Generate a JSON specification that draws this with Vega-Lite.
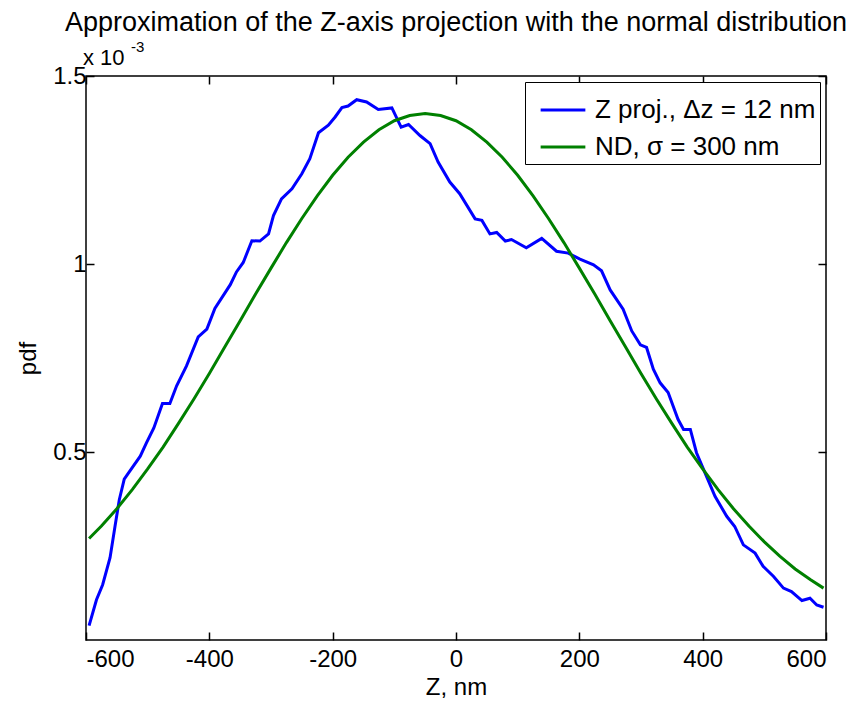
{
  "$schema": "https://vega.github.io/schema/vega-lite/v6.json",
  "autosize": {"type": "none"},
  "padding": {"left": 86, "top": 76, "right": 29, "bottom": 65},
  "width": 740,
  "height": 564,
  "background": "white",
  "config": {
    "font": "Liberation Sans",
    "view": {"stroke": "black", "strokeWidth": 1.5},
    "axis": {"grid": false, "domain": false, "tickColor": "black", "tickSize": -8, "tickWidth": 1.5, "labelColor": "black", "titleColor": "black", "labelFont": "Liberation Sans", "titleFont": "Liberation Sans", "labelFontSize": 24, "titleFontSize": 24, "titleFontWeight": "normal"}
  },
  "title": {"text": "Approximation of the Z-axis projection with the normal distribution", "fontSize": 27, "fontWeight": "normal", "font": "Liberation Sans", "color": "black", "anchor": "middle", "offset": 3},
  "datasets": {
    "curves": [
      {"z": -595, "pdf": 0.038, "series": "Z proj., Δz = 12 nm"},
      {"z": -583, "pdf": 0.107, "series": "Z proj., Δz = 12 nm"},
      {"z": -573, "pdf": 0.147, "series": "Z proj., Δz = 12 nm"},
      {"z": -561, "pdf": 0.219, "series": "Z proj., Δz = 12 nm"},
      {"z": -553, "pdf": 0.302, "series": "Z proj., Δz = 12 nm"},
      {"z": -546, "pdf": 0.373, "series": "Z proj., Δz = 12 nm"},
      {"z": -538, "pdf": 0.428, "series": "Z proj., Δz = 12 nm"},
      {"z": -529, "pdf": 0.449, "series": "Z proj., Δz = 12 nm"},
      {"z": -512, "pdf": 0.489, "series": "Z proj., Δz = 12 nm"},
      {"z": -502, "pdf": 0.524, "series": "Z proj., Δz = 12 nm"},
      {"z": -490, "pdf": 0.564, "series": "Z proj., Δz = 12 nm"},
      {"z": -476, "pdf": 0.629, "series": "Z proj., Δz = 12 nm"},
      {"z": -464, "pdf": 0.629, "series": "Z proj., Δz = 12 nm"},
      {"z": -453, "pdf": 0.676, "series": "Z proj., Δz = 12 nm"},
      {"z": -437, "pdf": 0.729, "series": "Z proj., Δz = 12 nm"},
      {"z": -418, "pdf": 0.806, "series": "Z proj., Δz = 12 nm"},
      {"z": -404, "pdf": 0.827, "series": "Z proj., Δz = 12 nm"},
      {"z": -391, "pdf": 0.882, "series": "Z proj., Δz = 12 nm"},
      {"z": -366, "pdf": 0.945, "series": "Z proj., Δz = 12 nm"},
      {"z": -356, "pdf": 0.979, "series": "Z proj., Δz = 12 nm"},
      {"z": -345, "pdf": 1.004, "series": "Z proj., Δz = 12 nm"},
      {"z": -331, "pdf": 1.062, "series": "Z proj., Δz = 12 nm"},
      {"z": -318, "pdf": 1.061, "series": "Z proj., Δz = 12 nm"},
      {"z": -304, "pdf": 1.08, "series": "Z proj., Δz = 12 nm"},
      {"z": -296, "pdf": 1.129, "series": "Z proj., Δz = 12 nm"},
      {"z": -283, "pdf": 1.173, "series": "Z proj., Δz = 12 nm"},
      {"z": -266, "pdf": 1.2, "series": "Z proj., Δz = 12 nm"},
      {"z": -250, "pdf": 1.24, "series": "Z proj., Δz = 12 nm"},
      {"z": -237, "pdf": 1.28, "series": "Z proj., Δz = 12 nm"},
      {"z": -223, "pdf": 1.349, "series": "Z proj., Δz = 12 nm"},
      {"z": -207, "pdf": 1.369, "series": "Z proj., Δz = 12 nm"},
      {"z": -196, "pdf": 1.391, "series": "Z proj., Δz = 12 nm"},
      {"z": -185, "pdf": 1.416, "series": "Z proj., Δz = 12 nm"},
      {"z": -175, "pdf": 1.42, "series": "Z proj., Δz = 12 nm"},
      {"z": -161, "pdf": 1.437, "series": "Z proj., Δz = 12 nm"},
      {"z": -145, "pdf": 1.431, "series": "Z proj., Δz = 12 nm"},
      {"z": -126, "pdf": 1.411, "series": "Z proj., Δz = 12 nm"},
      {"z": -104, "pdf": 1.415, "series": "Z proj., Δz = 12 nm"},
      {"z": -89, "pdf": 1.364, "series": "Z proj., Δz = 12 nm"},
      {"z": -77, "pdf": 1.371, "series": "Z proj., Δz = 12 nm"},
      {"z": -58, "pdf": 1.341, "series": "Z proj., Δz = 12 nm"},
      {"z": -42, "pdf": 1.32, "series": "Z proj., Δz = 12 nm"},
      {"z": -29, "pdf": 1.271, "series": "Z proj., Δz = 12 nm"},
      {"z": -10, "pdf": 1.218, "series": "Z proj., Δz = 12 nm"},
      {"z": 6, "pdf": 1.187, "series": "Z proj., Δz = 12 nm"},
      {"z": 31, "pdf": 1.12, "series": "Z proj., Δz = 12 nm"},
      {"z": 42, "pdf": 1.116, "series": "Z proj., Δz = 12 nm"},
      {"z": 55, "pdf": 1.08, "series": "Z proj., Δz = 12 nm"},
      {"z": 66, "pdf": 1.084, "series": "Z proj., Δz = 12 nm"},
      {"z": 80, "pdf": 1.061, "series": "Z proj., Δz = 12 nm"},
      {"z": 90, "pdf": 1.065, "series": "Z proj., Δz = 12 nm"},
      {"z": 114, "pdf": 1.043, "series": "Z proj., Δz = 12 nm"},
      {"z": 139, "pdf": 1.068, "series": "Z proj., Δz = 12 nm"},
      {"z": 163, "pdf": 1.034, "series": "Z proj., Δz = 12 nm"},
      {"z": 182, "pdf": 1.029, "series": "Z proj., Δz = 12 nm"},
      {"z": 201, "pdf": 1.013, "series": "Z proj., Δz = 12 nm"},
      {"z": 223, "pdf": 0.998, "series": "Z proj., Δz = 12 nm"},
      {"z": 236, "pdf": 0.982, "series": "Z proj., Δz = 12 nm"},
      {"z": 250, "pdf": 0.931, "series": "Z proj., Δz = 12 nm"},
      {"z": 271, "pdf": 0.88, "series": "Z proj., Δz = 12 nm"},
      {"z": 285, "pdf": 0.822, "series": "Z proj., Δz = 12 nm"},
      {"z": 299, "pdf": 0.785, "series": "Z proj., Δz = 12 nm"},
      {"z": 309, "pdf": 0.778, "series": "Z proj., Δz = 12 nm"},
      {"z": 320, "pdf": 0.72, "series": "Z proj., Δz = 12 nm"},
      {"z": 331, "pdf": 0.684, "series": "Z proj., Δz = 12 nm"},
      {"z": 344, "pdf": 0.658, "series": "Z proj., Δz = 12 nm"},
      {"z": 360, "pdf": 0.587, "series": "Z proj., Δz = 12 nm"},
      {"z": 369, "pdf": 0.56, "series": "Z proj., Δz = 12 nm"},
      {"z": 380, "pdf": 0.56, "series": "Z proj., Δz = 12 nm"},
      {"z": 390, "pdf": 0.498, "series": "Z proj., Δz = 12 nm"},
      {"z": 404, "pdf": 0.444, "series": "Z proj., Δz = 12 nm"},
      {"z": 420, "pdf": 0.382, "series": "Z proj., Δz = 12 nm"},
      {"z": 439, "pdf": 0.329, "series": "Z proj., Δz = 12 nm"},
      {"z": 452, "pdf": 0.302, "series": "Z proj., Δz = 12 nm"},
      {"z": 466, "pdf": 0.253, "series": "Z proj., Δz = 12 nm"},
      {"z": 485, "pdf": 0.231, "series": "Z proj., Δz = 12 nm"},
      {"z": 498, "pdf": 0.196, "series": "Z proj., Δz = 12 nm"},
      {"z": 515, "pdf": 0.169, "series": "Z proj., Δz = 12 nm"},
      {"z": 531, "pdf": 0.138, "series": "Z proj., Δz = 12 nm"},
      {"z": 544, "pdf": 0.129, "series": "Z proj., Δz = 12 nm"},
      {"z": 561, "pdf": 0.105, "series": "Z proj., Δz = 12 nm"},
      {"z": 574, "pdf": 0.111, "series": "Z proj., Δz = 12 nm"},
      {"z": 585, "pdf": 0.093, "series": "Z proj., Δz = 12 nm"},
      {"z": 596, "pdf": 0.087, "series": "Z proj., Δz = 12 nm"},
      {"z": -595, "pdf": 0.27, "series": "ND, σ = 300 nm"},
      {"z": -575, "pdf": 0.303, "series": "ND, σ = 300 nm"},
      {"z": -550, "pdf": 0.349, "series": "ND, σ = 300 nm"},
      {"z": -525, "pdf": 0.4, "series": "ND, σ = 300 nm"},
      {"z": -500, "pdf": 0.455, "series": "ND, σ = 300 nm"},
      {"z": -475, "pdf": 0.513, "series": "ND, σ = 300 nm"},
      {"z": -450, "pdf": 0.576, "series": "ND, σ = 300 nm"},
      {"z": -425, "pdf": 0.641, "series": "ND, σ = 300 nm"},
      {"z": -400, "pdf": 0.709, "series": "ND, σ = 300 nm"},
      {"z": -375, "pdf": 0.779, "series": "ND, σ = 300 nm"},
      {"z": -350, "pdf": 0.849, "series": "ND, σ = 300 nm"},
      {"z": -325, "pdf": 0.92, "series": "ND, σ = 300 nm"},
      {"z": -300, "pdf": 0.989, "series": "ND, σ = 300 nm"},
      {"z": -275, "pdf": 1.057, "series": "ND, σ = 300 nm"},
      {"z": -250, "pdf": 1.121, "series": "ND, σ = 300 nm"},
      {"z": -225, "pdf": 1.181, "series": "ND, σ = 300 nm"},
      {"z": -200, "pdf": 1.236, "series": "ND, σ = 300 nm"},
      {"z": -175, "pdf": 1.284, "series": "ND, σ = 300 nm"},
      {"z": -150, "pdf": 1.324, "series": "ND, σ = 300 nm"},
      {"z": -125, "pdf": 1.357, "series": "ND, σ = 300 nm"},
      {"z": -100, "pdf": 1.381, "series": "ND, σ = 300 nm"},
      {"z": -75, "pdf": 1.395, "series": "ND, σ = 300 nm"},
      {"z": -50, "pdf": 1.4, "series": "ND, σ = 300 nm"},
      {"z": -25, "pdf": 1.395, "series": "ND, σ = 300 nm"},
      {"z": 0, "pdf": 1.381, "series": "ND, σ = 300 nm"},
      {"z": 25, "pdf": 1.357, "series": "ND, σ = 300 nm"},
      {"z": 50, "pdf": 1.324, "series": "ND, σ = 300 nm"},
      {"z": 75, "pdf": 1.284, "series": "ND, σ = 300 nm"},
      {"z": 100, "pdf": 1.236, "series": "ND, σ = 300 nm"},
      {"z": 125, "pdf": 1.181, "series": "ND, σ = 300 nm"},
      {"z": 150, "pdf": 1.121, "series": "ND, σ = 300 nm"},
      {"z": 175, "pdf": 1.057, "series": "ND, σ = 300 nm"},
      {"z": 200, "pdf": 0.989, "series": "ND, σ = 300 nm"},
      {"z": 225, "pdf": 0.92, "series": "ND, σ = 300 nm"},
      {"z": 250, "pdf": 0.849, "series": "ND, σ = 300 nm"},
      {"z": 275, "pdf": 0.779, "series": "ND, σ = 300 nm"},
      {"z": 300, "pdf": 0.709, "series": "ND, σ = 300 nm"},
      {"z": 325, "pdf": 0.641, "series": "ND, σ = 300 nm"},
      {"z": 350, "pdf": 0.576, "series": "ND, σ = 300 nm"},
      {"z": 375, "pdf": 0.513, "series": "ND, σ = 300 nm"},
      {"z": 400, "pdf": 0.455, "series": "ND, σ = 300 nm"},
      {"z": 425, "pdf": 0.4, "series": "ND, σ = 300 nm"},
      {"z": 450, "pdf": 0.349, "series": "ND, σ = 300 nm"},
      {"z": 475, "pdf": 0.303, "series": "ND, σ = 300 nm"},
      {"z": 500, "pdf": 0.261, "series": "ND, σ = 300 nm"},
      {"z": 525, "pdf": 0.223, "series": "ND, σ = 300 nm"},
      {"z": 550, "pdf": 0.189, "series": "ND, σ = 300 nm"},
      {"z": 575, "pdf": 0.16, "series": "ND, σ = 300 nm"},
      {"z": 596, "pdf": 0.138, "series": "ND, σ = 300 nm"}
    ],
    "exponent": [
      {"z": -600, "pdf": 1.5, "base": "x 10", "power": "-3"}
    ]
  },
  "layer": [
    {
      "data": {"name": "curves"},
      "mark": {"type": "line", "strokeWidth": 3, "clip": true},
      "encoding": {
        "x": {"field": "z", "type": "quantitative", "scale": {"domain": [-600, 600], "nice": false, "zero": false},
              "axis": {"orient": "bottom", "values": [-600, -400, -200, 0, 200, 400, 600], "labelExpr": "toString(datum.value)", "title": "Z, nm", "labelPadding": 15, "titlePadding": 4}},
        "y": {"field": "pdf", "type": "quantitative", "scale": {"domain": [0, 1.5], "nice": false, "zero": false},
              "axis": {"orient": "left", "values": [0.5, 1, 1.5], "labelExpr": "toString(datum.value)", "title": "pdf", "labelPadding": 8, "titlePadding": 12}},
        "color": {"field": "series", "type": "nominal",
                  "scale": {"domain": ["Z proj., Δz = 12 nm", "ND, σ = 300 nm"], "range": ["#0000ff", "#008000"]},
                  "legend": {"title": null, "orient": "top-right", "offset": 6, "strokeColor": "black", "fillColor": "white", "padding": 4, "symbolType": "stroke", "symbolStrokeWidth": 3, "symbolSize": 2000, "labelFontSize": 26, "labelFont": "Liberation Sans", "labelColor": "black", "labelLimit": 0, "rowPadding": -12, "symbolOffset": 10, "labelOffset": 8}},
        "detail": {"field": "series"}
      }
    },
    {
      "data": {"name": "exponent"},
      "mark": {"type": "text", "align": "left", "baseline": "alphabetic", "fontSize": 22, "font": "Liberation Sans", "color": "black", "dy": -11, "dx": -3},
      "encoding": {
        "x": {"field": "z", "type": "quantitative", "axis": {"orient": "top", "values": [-600, -400, -200, 0, 200, 400, 600], "labels": false, "title": null}},
        "y": {"field": "pdf", "type": "quantitative", "axis": {"orient": "right", "values": [0.5, 1, 1.5], "labels": false, "title": null}},
        "text": {"field": "base"}
      }
    },
    {
      "data": {"name": "exponent"},
      "mark": {"type": "text", "align": "left", "baseline": "alphabetic", "fontSize": 15, "font": "Liberation Sans", "color": "black", "dy": -24, "dx": 45},
      "encoding": {
        "x": {"field": "z", "type": "quantitative", "axis": null},
        "y": {"field": "pdf", "type": "quantitative", "axis": null},
        "text": {"field": "power"}
      }
    }
  ],
  "resolve": {"axis": {"x": "independent", "y": "independent"}}
}
